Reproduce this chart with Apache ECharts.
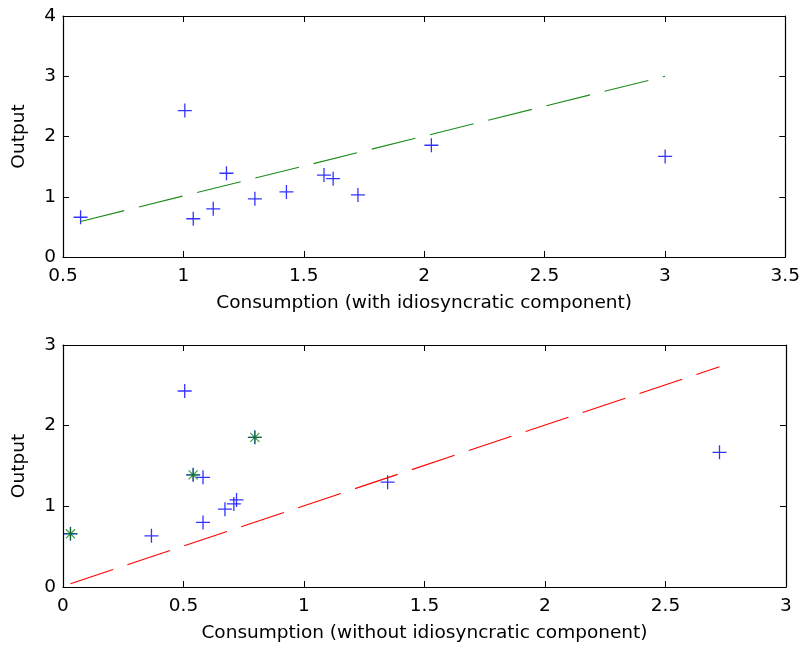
<!DOCTYPE html>
<html>
<head>
<meta charset="utf-8">
<title>Output vs consumption</title>
<script src="https://cdn.jsdelivr.net/npm/echarts@6/dist/echarts.min.js"></script>
<style>
  html, body { margin: 0; padding: 0; background: #fff; }
  #chart { width: 803px; height: 650px; }
</style>
</head>
<body>
<div id="chart"></div>
<script>
// Household observations: consumption measured with and without the idiosyncratic component
const consumptionWith    = [0.573, 1.006, 1.041, 1.124, 1.179, 1.297, 1.428, 1.584, 1.622, 1.725, 2.030, 3.001];
const consumptionWithout = [0.031, 0.505, 0.367, 0.581, 0.540, 0.672, 0.720, 0.581, 1.347, 0.709, 0.796, 2.724];
const output             = [0.660, 2.430, 0.635, 0.800, 1.390, 0.965, 1.080, 1.360, 1.300, 1.030, 1.855, 1.670];

// Observations highlighted with a star in the lower panel
const starredIdx = [0, 4, 10];

// Reference lines (two end points each)
const fitWithX    = [0.573, 3.001];
const fitWithY    = [0.590, 3.000];
const fitWithoutX = [0.031, 2.724];
const fitWithoutY = [0.040, 2.730];

// Axis ranges and tick steps
const topX = { min: 0.5, max: 3.5, interval: 0.5 };
const topY = { min: 0,   max: 4,   interval: 1 };
const botX = { min: 0,   max: 3,   interval: 0.5 };
const botY = { min: 0,   max: 3,   interval: 1 };

const xTitleTop = 'Consumption (with idiosyncratic component)';
const xTitleBot = 'Consumption (without idiosyncratic component)';
const yTitle = 'Output';

const FONT = 'DejaVu Sans';
const FS = 18.5;

const PLUS = 'path://M0,-1L0,1M-1,0L1,0';
const STAR = 'path://M0,-1L0,1M-1,0L1,0M-0.7,-0.7L0.7,0.7M-0.7,0.7L0.7,-0.7';

const pairs = (xs, ys) => xs.map((x, i) => [x, ys[i]]);

function mainAxis(range, pos, grid, name, gap, labelMargin) {
  return {
    type: 'value', gridIndex: grid, position: pos,
    min: range.min, max: range.max, interval: range.interval,
    name: name, nameLocation: 'middle', nameGap: gap,
    nameTextStyle: { fontFamily: FONT, fontSize: FS, color: '#000' },
    axisLine: { show: true, onZero: false, lineStyle: { color: '#000', width: 1.2 } },
    axisTick: { show: true, inside: true, length: 6, lineStyle: { color: '#000' } },
    axisLabel: { show: true, fontFamily: FONT, fontSize: FS, color: '#000', margin: labelMargin },
    splitLine: { show: false }
  };
}

function mirrorAxis(range, pos, grid) {
  return {
    type: 'value', gridIndex: grid, position: pos,
    min: range.min, max: range.max, interval: range.interval,
    axisLine: { show: true, onZero: false, lineStyle: { color: '#000', width: 1.2 } },
    axisTick: { show: true, inside: true, length: 6, lineStyle: { color: '#000' } },
    axisLabel: { show: false },
    splitLine: { show: false }
  };
}

const plusStyle = (color) => ({
  color: 'rgba(0,0,0,0)', borderColor: color, borderWidth: 1.3
});

const option = {
  animation: false,
  backgroundColor: '#fff',
  grid: [
    { left: 63, right: 17, top: 16, height: 241 },
    { left: 63, right: 17, top: 345, height: 242 }
  ],
  xAxis: [
    mainAxis(topX, 'bottom', 0, xTitleTop, 37, 10),
    mirrorAxis(topX, 'top', 0),
    mainAxis(botX, 'bottom', 1, xTitleBot, 37, 10),
    mirrorAxis(botX, 'top', 1)
  ],
  yAxis: [
    mainAxis(topY, 'left', 0, yTitle, 34, 7),
    mirrorAxis(topY, 'right', 0),
    mainAxis(botY, 'left', 1, yTitle, 34, 7),
    mirrorAxis(botY, 'right', 1)
  ],
  series: [
    {
      type: 'line', xAxisIndex: 0, yAxisIndex: 0,
      data: pairs(fitWithX, fitWithY),
      showSymbol: false, silent: true,
      lineStyle: { color: '#1a8c1a', width: 1.1, type: [45, 15] }
    },
    {
      type: 'scatter', xAxisIndex: 0, yAxisIndex: 0,
      data: pairs(consumptionWith, output),
      symbol: PLUS, symbolSize: 14,
      itemStyle: plusStyle('#0000ff')
    },
    {
      type: 'line', xAxisIndex: 2, yAxisIndex: 2,
      data: pairs(fitWithoutX, fitWithoutY),
      showSymbol: false, silent: true,
      lineStyle: { color: '#ff0000', width: 1.1, type: [45, 15] }
    },
    {
      type: 'scatter', xAxisIndex: 2, yAxisIndex: 2,
      data: pairs(consumptionWithout, output),
      symbol: PLUS, symbolSize: 14,
      itemStyle: plusStyle('#0000ff')
    },
    {
      type: 'scatter', xAxisIndex: 2, yAxisIndex: 2,
      data: starredIdx.map(i => [consumptionWithout[i], output[i]]),
      symbol: STAR, symbolSize: 13,
      itemStyle: { color: 'rgba(0,0,0,0)', borderColor: '#007a00', borderWidth: 1.2, opacity: 0.75 }
    }
  ]
};

const chart = echarts.init(document.getElementById('chart'), null, { renderer: 'canvas' });
chart.setOption(option);
</script>
</body>
</html>
